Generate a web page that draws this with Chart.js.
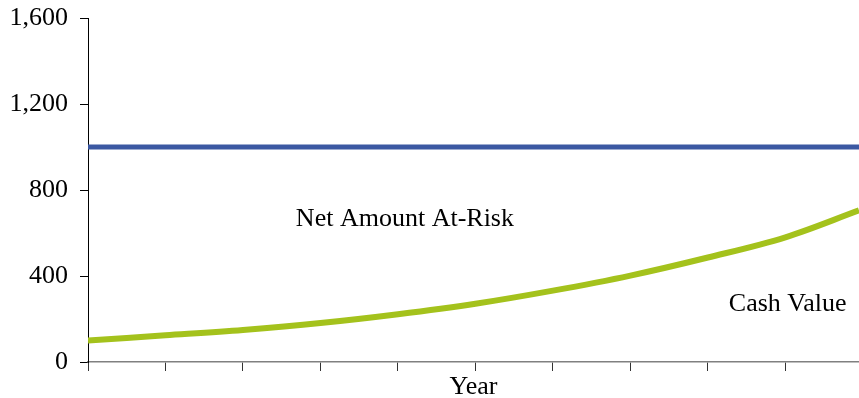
<!DOCTYPE html>
<html>
<head>
<meta charset="utf-8">
<script src="https://cdn.jsdelivr.net/npm/chart.js@4.4.1/dist/chart.umd.min.js"></script>
<style>
  html, body { margin: 0; padding: 0; background: #fff; }
  #wrap { width: 859px; height: 398px; }
</style>
</head>
<body>
<div id="wrap"><canvas id="myChart" width="859" height="398"></canvas></div>
<script>
// values (x in tick intervals along the Year axis)
const years = [0, 1, 2, 3, 4, 5, 6, 7, 8, 9, 9.95];
const cashValue = [100, 124, 149, 181, 222, 271, 332, 402, 486, 580, 705];
const deathBenefit = [1000, 1000, 1000, 1000, 1000, 1000, 1000, 1000, 1000, 1000, 1000];
const yTicks = [0, 400, 800, 1200, 1600];

// text labels placed in data coordinates
const noteText = ['Net Amount At-Risk', 'Cash Value'];
const noteX = [4.09, 9.03];
const noteY = [665, 270];

const serif = '"Liberation Serif", "Times New Roman", serif';

const canvas = document.getElementById('myChart');
const ctx = canvas.getContext('2d');

const notesPlugin = {
  id: 'notes',
  afterDatasetsDraw(chart) {
    const c = chart.ctx;
    const xs = chart.scales.x, ys = chart.scales.y;
    c.save();
    c.font = '26px ' + serif;
    c.fillStyle = '#000';
    c.textAlign = 'center';
    c.textBaseline = 'middle';
    for (let i = 0; i < noteText.length; i++) {
      c.fillText(noteText[i], xs.getPixelForValue(noteX[i]), ys.getPixelForValue(noteY[i]));
    }
    c.restore();
  }
};

const data = {
  datasets: [
    {
      label: 'Death Benefit',
      data: years.map((x, i) => ({ x: x, y: deathBenefit[i] })),
      borderColor: '#3b58a2',
      borderWidth: 5,
      pointRadius: 0,
      order: 2
    },
    {
      label: 'Cash Value',
      data: years.map((x, i) => ({ x: x, y: cashValue[i] })),
      borderColor: '#a4c21c',
      borderWidth: 6,
      pointRadius: 0,
      tension: 0.35,
      order: 1
    }
  ]
};

const config = {
  type: 'line',
  data: data,
  options: {
    responsive: false,
    animation: false,
    events: [],
    layout: { padding: { top: 18, right: 0, bottom: 0, left: 0 } },
    plugins: { legend: { display: false }, tooltip: { enabled: false } },
    scales: {
      x: {
        type: 'linear',
        min: 0,
        max: 9.95,
        afterFit(scale) { scale.height = 36; scale.paddingLeft = 0; scale.paddingRight = 0; },
        border: { display: true, color: '#808080', width: 1.5 },
        grid: { drawOnChartArea: false, drawTicks: true, tickLength: 9, tickColor: '#333', tickWidth: 1 },
        ticks: { display: false, stepSize: 1, includeBounds: false },
        title: {
          display: true,
          text: 'Year',
          color: '#000',
          font: { family: serif, size: 26, lineHeight: 0.8 },
          padding: { top: 0, bottom: 0 }
        }
      },
      y: {
        min: 0,
        max: 1600,
        afterFit(scale) { scale.width = 88; scale.paddingTop = 0; scale.paddingBottom = 0; },
        afterBuildTicks(scale) { scale.ticks = yTicks.map(v => ({ value: v })); },
        border: { display: true, color: '#000', width: 1 },
        grid: { drawOnChartArea: false, drawTicks: true, tickLength: 8, tickColor: '#000' },
        ticks: {
          color: '#000',
          padding: 12,
          font: { family: serif, size: 26 }
        }
      }
    }
  },
  plugins: [notesPlugin]
};

const myChart = new Chart(ctx, config);
</script>
</body>
</html>
